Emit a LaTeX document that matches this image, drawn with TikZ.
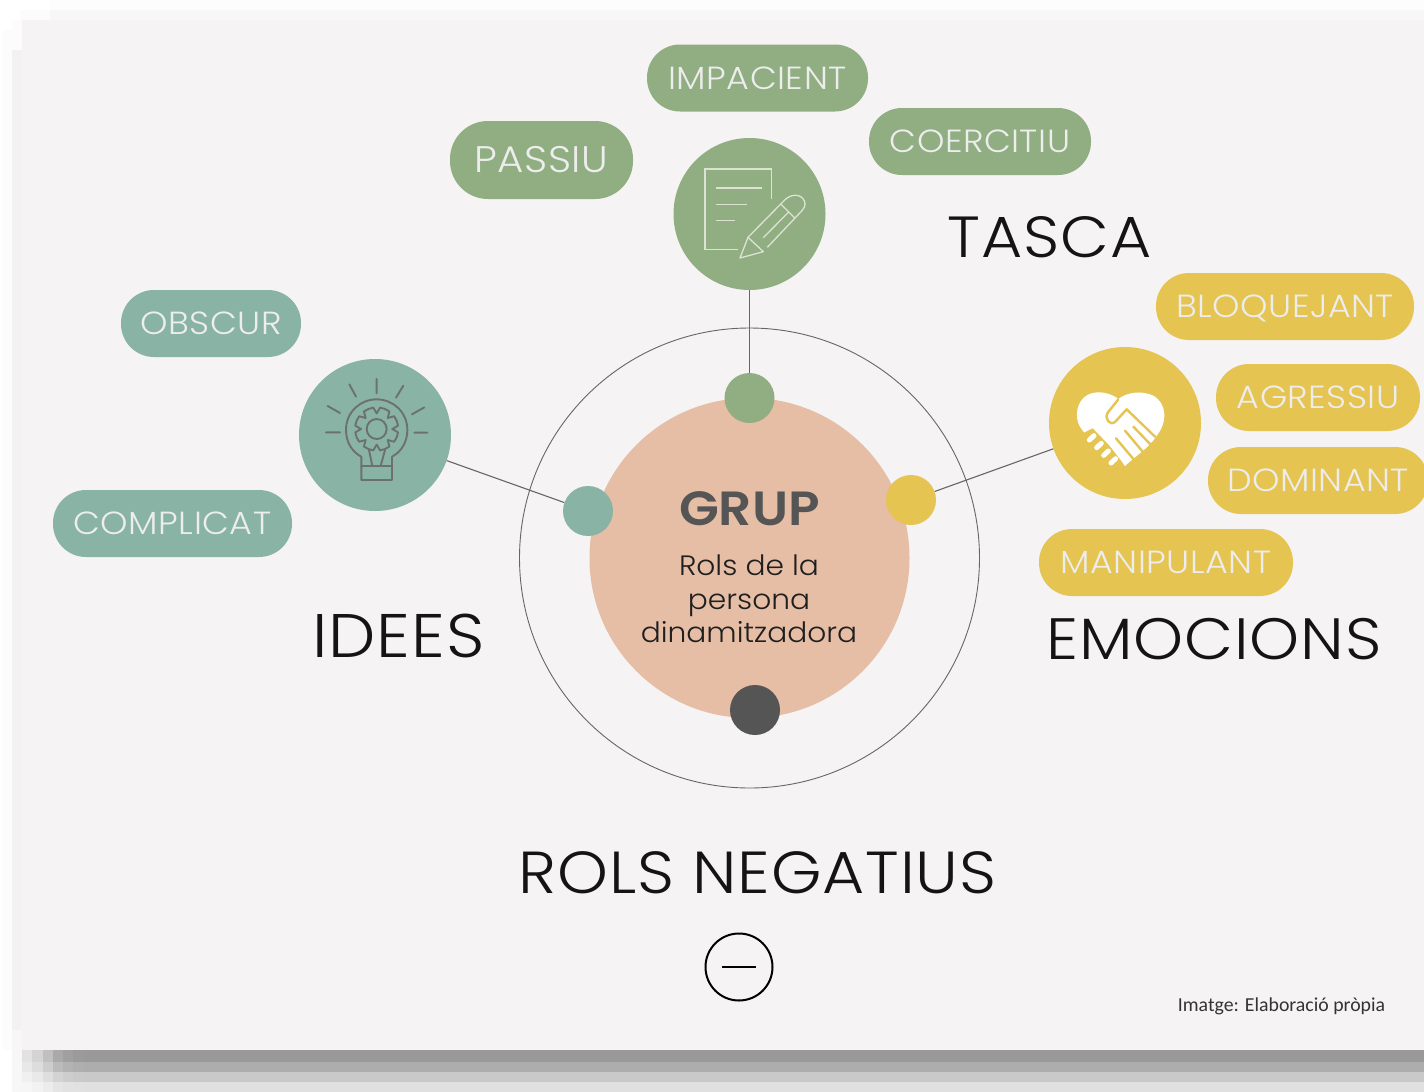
\documentclass[tikz,border=0pt]{standalone}
\usepackage{fontspec}
\setmainfont{Poppins}
\newfontfamily\lightfont[FakeStretch=1.09,LetterSpace=1.5]{Poppins Light}
\newfontfamily\bodyfont[FakeStretch=1.06]{Poppins Light}
\newfontfamily\heavyfont[FakeStretch=1.08]{Poppins SemiBold}
\newfontfamily\footfont{Carlito}
\definecolor{panel}{HTML}{F5F3F4}
\definecolor{sage}{HTML}{90AE82}
\definecolor{teal}{HTML}{89B3A4}
\definecolor{gold}{HTML}{E5C451}
\definecolor{peach}{HTML}{E6BDA5}
\definecolor{dark}{HTML}{555555}
\definecolor{bulb}{HTML}{6C7170}
\definecolor{paper}{HTML}{DDE3D3}
\tikzset{
 pill/.style={rectangle,rounded corners=33pt,inner sep=0pt,text=white!93!black,minimum height=67pt,text height=22pt,text depth=0pt,font=\lightfont\fontsize{32}{32}\selectfont},
 sagepill/.style={pill,fill=sage},
 tealpill/.style={pill,fill=teal},
 goldpill/.style={pill,fill=gold},
 bigdisc/.style={circle,inner sep=0pt,minimum size=152pt},
 dot/.style={circle,inner sep=0pt,minimum size=50pt},
 title/.style={inner sep=0pt,text=black!92,text height=42pt,text depth=0pt},
 spoke/.style={draw=black!60,line width=1.1pt},
 thinicon/.style={draw=paper,line width=1.3pt},
 bulbicon/.style={draw=bulb,line width=1.9pt,line cap=round,line join=round},
 hand/.style={draw=gold,line width=2.4pt,line cap=round,line join=round},
 pillet/.style={draw=white,line width=5pt,line cap=round},
}
\begin{document}
\begin{tikzpicture}[x=1pt,y=-1pt]
\useasboundingbox (0,0) rectangle (1424,1092);
\fill[white] (0,0) rectangle (1424,1092);
% soft frame
\fill[black!0.6] (50,0) rectangle (1424,10);
\fill[black!1] (2,30) rectangle (12,1050);
\fill[black!1] (12,20) rectangle (22,50);
\fill[black!1] (20,10) rectangle (50,20);
\fill[black!5] (12,50) rectangle (22,1030);
\fill[black!3] (12,1030) rectangle (22,1092);
\fill[panel] (22,20) rectangle (1424,1050);
\fill[black!3] (50,10) rectangle (1424,20);
% bottom shadow
\foreach \yy/\hh/\g in {1050/12/40,1062/10/32,1072/10/21,1082/10/12}{
 \foreach \xa/\f in {22/28,32/42,43/62,53/83,63/93,73/98}{
  \pgfmathsetmacro{\gg}{\g*\f/100}
  \fill[black!\gg] (\xa,\yy) rectangle (\xa+11,\yy+\hh);
 }
 \fill[black!\g] (84,\yy) rectangle (1424,\yy+\hh);
}
% ring and central circle
\node[circle,draw=black!60,line width=0.9pt,inner sep=0pt,minimum size=460pt] (ring) at (749.5,558) {};
\node[circle,fill=peach,inner sep=0pt,minimum size=320pt] (core) at (749.5,558) {};
% discs
\node[bigdisc,fill=sage] (taskdisc) at (749.5,214) {};
\node[bigdisc,fill=teal] (ideadisc) at (375,435) {};
\node[bigdisc,fill=gold] (emodisc) at (1125,423) {};
\node[dot,fill=sage] (taskdot) at (749.5,398) {};
\node[dot,fill=teal] (ideadot) at (588,511) {};
\node[dot,fill=gold] (emodot) at (911,500) {};
\node[dot,fill=dark] (negdot) at (755,710) {};
\draw[spoke] (taskdisc) -- (taskdot);
\draw[spoke] (ideadisc) -- (ideadot);
\draw[spoke] (emodisc) -- (emodot);
% central text
\node[inner sep=0pt,text=dark,font=\heavyfont\fontsize{48}{48}\selectfont] (grup) at (749.5,509) {GRUP};
\node[inner sep=0pt,text=black!88,font=\bodyfont\fontsize{28}{33.5}\selectfont,align=center] (rols) at (749,599) {Rols de la\\persona\\dinamitzadora};
% pills
\node[sagepill,minimum width=183pt,minimum height=78pt,rounded corners=38pt,text height=25pt,font=\lightfont\fontsize{37}{37}\selectfont] (passiu) at (541.5,160) {PASSIU};
\node[sagepill,minimum width=221pt] (impacient) at (757.5,78) {IMPACIENT};
\node[sagepill,minimum width=222pt] (coercitiu) at (980,141.5) {COERCITIU};
\node[goldpill,minimum width=258pt] (bloq) at (1285,306.5) {BLOQUEJANT};
\node[goldpill,minimum width=204pt] (agres) at (1318,397.5) {AGRESSIU};
\node[goldpill,minimum width=220pt] (domin) at (1318,480.5) {DOMINANT};
\node[goldpill,minimum width=254pt] (manip) at (1166,562.5) {MANIPULANT};
\node[tealpill,minimum width=180pt] (obscur) at (211,323.5) {OBSCUR};
\node[tealpill,minimum width=239pt] (compl) at (172.5,523.5) {COMPLICAT};
% titles
\node[title,font=\lightfont\fontsize{58}{58}\selectfont] (tasca) at (1049.5,236) {TASCA};
\node[title,font=\lightfont\fontsize{61.5}{60}\selectfont] (idees) at (398.5,636) {IDEES};
\node[title,font=\lightfont\fontsize{58.3}{58}\selectfont] (emo) at (1214,638) {EMOCIONS};
\node[title,font=\lightfont\fontsize{59.3}{60}\selectfont] (neg) at (757.5,872) {ROLS NEGATIUS};
% minus
\node[circle,draw=black,line width=2pt,inner sep=0pt,minimum size=67pt] (minus) at (739,967) {};
\draw[black,line width=2pt] ([xshift=-17pt]minus.center) -- ([xshift=17pt]minus.center);
\node[inner sep=0pt,text=black!80,font=\footfont\fontsize{19.8}{21}\selectfont] (foot) at (1281.5,1006) {Imatge: Elaboració pròpia};
% document icon
\begin{scope}[shift={(660,130)},scale=1/3]
 \draw[thinicon] (334,208) -- (334,117) -- (135,117) -- (135,358) -- (233,358);
 \draw[thinicon] (168,174) -- (306,174) (168,223) -- (262,223) (168,272) -- (226,272);
 \draw[thinicon,line join=round] (264,322) -- (240,384) -- (310,365) -- cycle;
 \draw[thinicon] (264,322) -- (372,212) .. controls (392,190) and (425,190) .. (434,215) .. controls (437,228) and (432,236) .. (425,243) -- (322,352);
 \draw[thinicon] (362,222) -- (404,264) (310,323) -- (385,247);
\end{scope}
% bulb icon
\begin{scope}[shift={(290,350)},scale=1/3]
 \draw[bulbicon] (260,87) -- (260,130) (178,103) -- (198,140) (340,107) -- (318,143) (113,168) -- (150,189) (403,172) -- (366,193) (108,247) -- (150,247) (373,248) -- (412,248);
 \draw[bulbicon] (214,320) .. controls (185,305) and (168,275) .. (168,240) .. controls (168,185) and (212,148) .. (260,148) .. controls (308,148) and (352,185) .. (352,240) .. controls (352,275) and (335,305) .. (306,320) -- (306,390) -- (214,390) -- cycle;
 \draw[bulbicon] (214,348) -- (306,348) (237,300) -- (247,348) (285,300) -- (272,348);
 \draw[bulbicon] (260,237) circle[radius=30];
 \begin{scope}[shift={(260,237)}]
  \foreach \a in {0,45,...,315}{
   \draw[bulbicon] (\a:47) -- ({\a+9}:65) arc[start angle={\a+9},end angle={\a+36},radius=65] -- ({\a+45}:47);
  }
 \end{scope}
\end{scope}
% handshake icon
\begin{scope}[shift={(1070,385)},scale=1/3]
 \fill[white] (145,42) .. controls (120,22) and (80,15) .. (52,30) .. controls (20,48) and (12,95) .. (30,125) .. controls (60,175) and (120,205) .. (165,243) .. controls (200,210) and (235,190) .. (258,155) .. controls (295,110) and (290,55) .. (250,32) .. controls (215,15) and (170,22) .. (145,42) -- cycle;
 \fill[gold] (36,146) -- (68,130) -- (150,215) -- (172,262) -- (120,262) -- cycle;
 \draw[hand] (145,43) -- (113,83) .. controls (102,100) and (120,125) .. (136,110) -- (170,73) -- (255,155);
 \draw[hand] (190,125) -- (245,182) (165,137) -- (218,200) (138,160) -- (190,222);
 \draw[pillet] (58,165) -- (72,152) (80,188) -- (94,175) (101,211) -- (115,198) (123,234) -- (137,221);
 \draw[draw=white,line width=4pt,line cap=round] (125,180) -- (165,232);
\end{scope}
\end{tikzpicture}
\end{document}
